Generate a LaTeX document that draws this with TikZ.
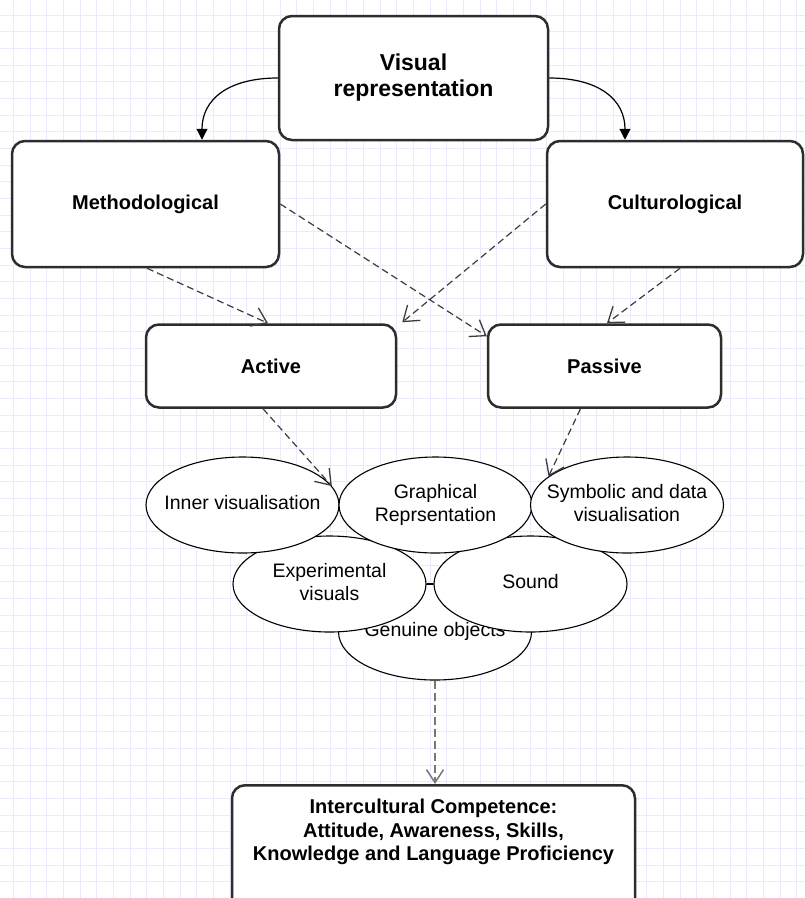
\documentclass[tikz,border=0pt]{standalone}
\usepackage{fontspec}
\setmainfont{Liberation Sans}
\usetikzlibrary{arrows.meta,shapes.geometric}
\definecolor{gridc}{RGB}{234,234,253}
\definecolor{boxc}{RGB}{45,45,45}
\definecolor{arrc}{RGB}{60,60,60}
\definecolor{bigc}{RGB}{120,120,120}
\newcommand{\zt}[1]{\makebox[0pt]{\begin{tabular}{@{}c@{}}#1\end{tabular}}}
\begin{document}
\begin{tikzpicture}[x=1pt,y=-1pt,
  gridline/.style={draw=gridc, line width=1pt},
  box/.style={draw=boxc, line width=2.5pt, rounded corners=13pt, fill=white, inner sep=0pt, align=center, font=\bfseries\fontsize{20}{24}\selectfont},
  ell/.style={ellipse, draw=black, line width=1.1pt, fill=white, minimum width=193pt, minimum height=96pt, inner sep=0pt, font=\fontsize{19.5}{23}\selectfont},
  solidarr/.style={draw=black, line width=1.2pt, -{Triangle[length=11pt,width=11pt]}},
  dasharr/.style={draw=arrc, line width=1.2pt, dash pattern=on 7pt off 4pt, -{Straight Barb[length=14pt,width=20pt,line width=1.3pt]}},
  bigdash/.style={draw=bigc, line width=2.5pt, dash pattern=on 8pt off 4pt, -{Straight Barb[length=13pt,width=17pt,line width=1.5pt]}}
]
\useasboundingbox (0,0) rectangle (805,898);
\clip (0,0) rectangle (805,898);
\fill[white] (0,0) rectangle (805,898);
\foreach \i in {0,...,49} {\draw[gridline] ({13.333+16.667*(\i-1)},0) -- ++(0,898);}
\foreach \j in {0,...,55} {\draw[gridline] (0,{15+16.667*(\j-1)}) -- ++(805,0);}

\node[box, minimum width=269pt, minimum height=124pt, font=\bfseries\fontsize{23}{26}\selectfont] (vr) at (413.5,78) {Visual\\representation};
\node[box, minimum width=267pt, minimum height=126pt] (meth) at (145.5,204) {Methodological};
\node[box, minimum width=256pt, minimum height=126pt] (cult) at (675,204) {Culturological};
\node[box, minimum width=250pt, minimum height=83pt] (act) at (271,366) {Active};
\node[box, minimum width=233pt, minimum height=83pt] (pas) at (604.5,366) {Passive};

\node[ell] (gen) at (435,632) {\zt{Genuine objects}};
\node[ell] (exp) at (329.5,584) {\zt{Experimental\\visuals}};
\node[ell] (snd) at (530.5,584) {\zt{Sound}};
\node[ell] (inner) at (242.5,505) {\zt{Inner visualisation}};
\node[ell] (graph) at (435.5,505) {\zt{Graphical\\Reprsentation}};
\node[ell] (symb) at (627,505) {\zt{Symbolic and data\\visualisation}};

\node[box, minimum width=403pt, minimum height=130pt, anchor=north] (ic) at (433.5,784) {};
\node[font=\bfseries\fontsize{20}{23.5}\selectfont, align=center, inner sep=0pt] (ictext) at (433.5,832) {Intercultural Competence:\\Attitude, Awareness, Skills,\\Knowledge and Language Proficiency};

\coordinate (m1) at ([xshift=56.5pt]meth.north);
\coordinate (c1) at ([xshift=-50pt]cult.north);
\draw[solidarr] (vr.west) .. controls ([xshift=-50pt]vr.west) and ([yshift=40pt]m1) .. (m1);
\draw[solidarr] (vr.east) .. controls ([xshift=50pt]vr.east) and ([yshift=40pt]c1) .. (c1);

\draw[dasharr] ([xshift=1.5pt]meth.south) -- ([xshift=-3pt]act.north);
\draw[dasharr] (meth.east) -- ([yshift=-13pt]pas.north west);
\draw[dasharr] (cult.west) -- ([xshift=5pt,yshift=1pt]act.north east);
\draw[dasharr] ([xshift=5pt]cult.south) -- ([xshift=2.5pt]pas.north);
\draw[dasharr] ([xshift=-8pt]act.south) -- (inner.12);
\draw[dasharr] ([xshift=-24pt]pas.south) -- (symb.160);
\draw[line width=1.1pt] (exp.east) -- (snd.west);
\draw[bigdash] (gen.south) -- (gen.south |- ic.north);
\end{tikzpicture}
\end{document}
